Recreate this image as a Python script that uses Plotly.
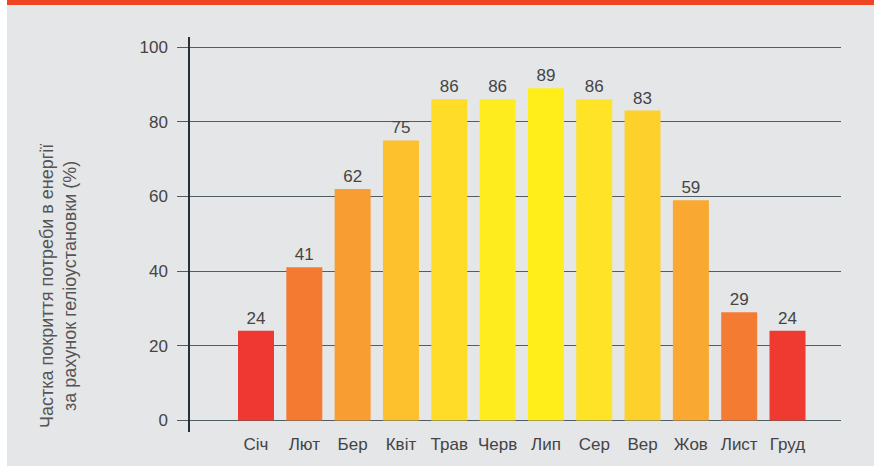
import plotly.graph_objects as go

months = ["Січ", "Лют", "Бер", "Квіт", "Трав", "Черв", "Лип", "Сер", "Вер", "Жов", "Лист", "Груд"]
coverage = [24, 41, 62, 75, 86, 86, 89, 86, 83, 59, 29, 24]
bar_colors = ["#EF3831", "#F47A32", "#F79D31", "#FCC12D", "#FEDC27", "#FFEC1E",
              "#FFEE1A", "#FEE327", "#FDD02B", "#F9A832", "#F47C32", "#EE3A30"]
y_ticks = [0, 20, 40, 60, 80, 100]
y_title = "Частка покриття потреби в енергії<br>за рахунок геліоустановки (%)"

W, H = 874, 466
L, R, T, B = 190, 33, 37, 34
pw, ph = W - L - R, H - T - B

def px_x(p):
    return (p - L) / pw

def px_y(p):
    return (H - B - p) / ph

FONT = "Liberation Sans, Arial, sans-serif"
TXT = "#444444"

fig = go.Figure()
fig.add_trace(go.Bar(
    x=list(range(len(months))),
    y=coverage,
    marker=dict(color=bar_colors, line=dict(width=0)),
    text=[str(v) for v in coverage],
    textposition="outside",
    textfont=dict(family=FONT, size=17, color=TXT),
    cliponaxis=False,
    width=0.745,
    hoverinfo="skip",
))

fig.update_layout(
    width=W, height=H,
    margin=dict(l=L, r=R, t=T, b=B),
    paper_bgcolor="#E5E6E8",
    plot_bgcolor="#E5E6E8",
    showlegend=False,
    xaxis=dict(
        range=[-1.366, 12.107],
        tickmode="array",
        tickvals=list(range(len(months))),
        ticktext=months,
        showgrid=False,
        zeroline=False,
        showline=False,
        ticks="",
        tickfont=dict(family=FONT, size=17, color=TXT),
        fixedrange=True,
    ),
    yaxis=dict(
        range=[-3.1, 102.7],
        tickmode="array",
        tickvals=y_ticks,
        showgrid=True,
        gridcolor="#4f5d64",
        gridwidth=1.2,
        zeroline=False,
        showline=True,
        linecolor="#263238",
        linewidth=1.5,
        ticks="outside",
        ticklen=11,
        tickwidth=1.2,
        tickcolor="#4f5d64",
        ticklabelstandoff=6,
        tickfont=dict(family=FONT, size=17, color=TXT),
        fixedrange=True,
        layer="below traces",
    ),
    shapes=[
        dict(type="rect", xref="paper", yref="paper",
             x0=px_x(0), x1=px_x(W), y0=px_y(5), y1=px_y(0),
             fillcolor="#F04523", line=dict(width=0), layer="below"),
        dict(type="rect", xref="paper", yref="paper",
             x0=px_x(0), x1=px_x(7), y0=px_y(H), y1=px_y(0),
             fillcolor="#FFFFFF", line=dict(width=0), layer="below"),
    ],
    annotations=[
        dict(text=y_title, xref="paper", yref="paper",
             x=px_x(58), y=px_y(286), showarrow=False, textangle=-90,
             font=dict(family=FONT, size=18, color="#555555"),
             align="center", xanchor="center", yanchor="middle"),
    ],
)

fig.write_html("out.html",
               config={"displayModeBar": False},
               post_script="document.body.style.margin='0';document.body.style.overflow='hidden';")
